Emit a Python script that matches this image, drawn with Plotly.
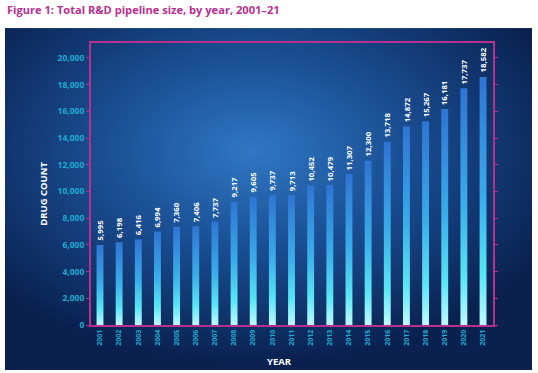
import base64
import plotly.graph_objects as go

years = list(range(2001, 2022))
drug_count = [5995, 6198, 6416, 6994, 7360, 7406, 7737, 9217, 9605, 9737, 9713,
              10452, 10479, 11307, 12300, 13718, 14872, 15267, 16181, 17737, 18582]
y_ticks = [0, 2000, 4000, 6000, 8000, 10000, 12000, 14000, 16000, 18000, 20000]

MAGENTA = "#b8308f"
CYAN = "#1eaad0"
FONT = "Open Sans"

svg = """<svg xmlns='http://www.w3.org/2000/svg' width='527' height='342' viewBox='0 0 527 342' preserveAspectRatio='none'>
<defs><radialGradient id='g' cx='0.47' cy='0.36' r='0.62'>
<stop offset='0' stop-color='#2f78c3'/>
<stop offset='0.45' stop-color='#1a4f94'/>
<stop offset='1' stop-color='#0a2150'/>
</radialGradient></defs>
<rect width='527' height='342' fill='url(#g)'/></svg>"""
bg_uri = "data:image/svg+xml;base64," + base64.b64encode(svg.encode()).decode()

fig = go.Figure()
half = 0.18
for yr, v in zip(years, drug_count):
    fig.add_trace(go.Scatter(
        x=[yr - half, yr - half, yr + half, yr + half, yr - half],
        y=[0, v, v, 0, 0],
        mode="lines", line=dict(width=0),
        fill="toself",
        fillgradient=dict(type="vertical", start=0, stop=v,
                          colorscale=[[0, "#bdfbff"], [0.2, "#58e6f5"],
                                      [0.5, "#3aaeea"], [1, "#2e74d4"]]),
        hoverinfo="skip", showlegend=False))

annotations = []
for yr, v in zip(years, drug_count):
    annotations.append(dict(x=yr, y=v, text=f"{v:,}", showarrow=False, textangle=-90,
                            yanchor="bottom", xanchor="center", yshift=2,
                            font=dict(family=FONT, size=7.8, color="white", weight=700)))
annotations.append(dict(xref="paper", yref="paper", x=-0.117, y=0.465, text="DRUG COUNT",
                        showarrow=False, textangle=-90, xanchor="center", yanchor="middle",
                        font=dict(family=FONT, size=9.5, color="white", weight=700)))
annotations.append(dict(xref="paper", yref="paper", x=0.47, y=-0.131, text="YEAR",
                        showarrow=False, xanchor="center", yanchor="middle",
                        font=dict(family=FONT, size=9.5, color="white", weight=700)))
annotations.append(dict(xref="paper", yref="paper", x=-0.214, y=1.118, xanchor="left",
                        yanchor="middle", text="Figure 1: Total R&D pipeline size, by year, 2001–21",
                        showarrow=False,
                        font=dict(family=FONT, size=11.1, color=MAGENTA, weight=700)))

fig.update_layout(
    width=538, height=373,
    margin=dict(l=91, r=45, t=43, b=48),
    paper_bgcolor="white", plot_bgcolor="rgba(0,0,0,0)",
    images=[dict(source=bg_uri, xref="paper", yref="paper", x=-0.214, y=1.053,
                 sizex=1.311, sizey=1.213, xanchor="left", yanchor="top",
                 sizing="stretch", layer="below")],
    annotations=annotations,
    xaxis=dict(range=[2000.53, 2021.52], tickvals=years, ticktext=[str(y) for y in years],
               tickangle=-90, showgrid=False, zeroline=False,
               showline=True, linecolor=MAGENTA, linewidth=2, mirror=True, ticks="",
               tickfont=dict(family=FONT, size=7, color=CYAN, weight=700)),
    yaxis=dict(range=[0, 21120], tickvals=y_ticks, ticktext=[f"{t:,}" for t in y_ticks],
               showgrid=False, zeroline=False,
               showline=True, linecolor=MAGENTA, linewidth=2, mirror="ticks",
               ticks="outside", ticklen=3, tickcolor=MAGENTA, tickwidth=1,
               tickfont=dict(family=FONT, size=8.5, color=CYAN, weight=700)),
)

fig.write_html("out.html", config={"displayModeBar": False},
               post_script="document.body.style.margin='0';document.body.style.overflow='hidden';")
